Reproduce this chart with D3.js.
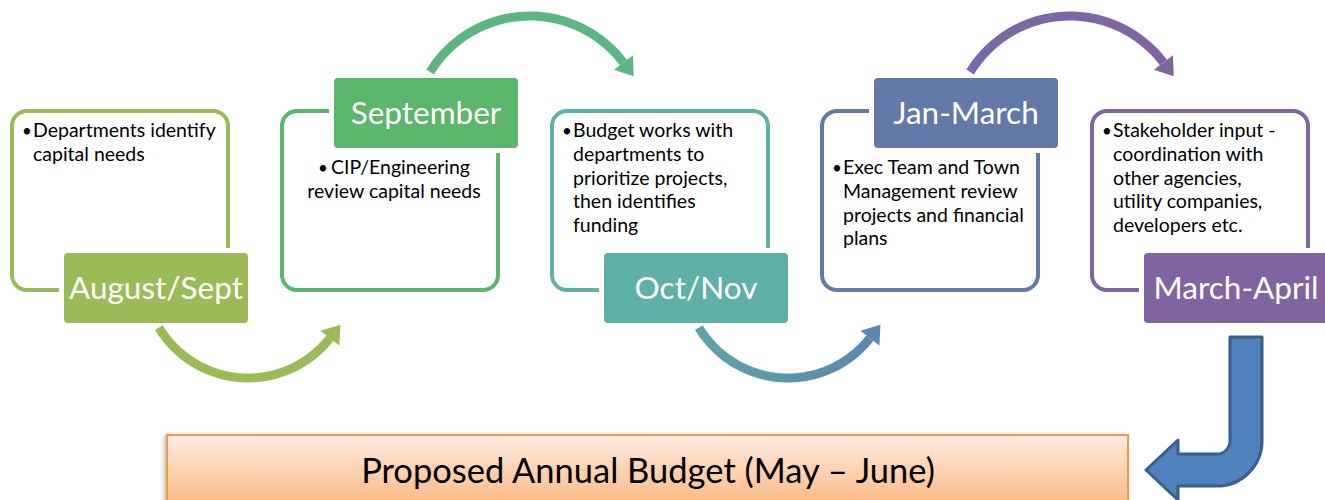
<html>
<head>
<meta charset="utf-8">
<title>Capital budget cycle</title>
<script src="https://d3js.org/d3.v7.min.js"></script>
<style type="text/css">
    body { margin: 0; background: #fff; }
    svg text { font-family: Lato, "Open Sans", sans-serif; }
    .note { font-size: 19.5px; fill: #000; }
    .bullet { font-size: 17px; fill: #000; }
    .stage { font-size: 31.5px; fill: #fff; }
    .budget { font-size: 34.5px; fill: #000; }
</style>
</head>
<body>
<div id="chart"></div>

<script type="text/javascript">
// stages of the cycle, left to right
var stages = ["August/Sept", "September", "Oct/Nov", "Jan-March", "March-April"];
var notes = [
    ["Departments identify", "capital needs"],
    ["CIP/Engineering", "review capital needs"],
    ["Budget works with", "departments to", "prioritize projects,", "then identifies", "funding"],
    ["Exec Team and Town", "Management review", "projects and financial", "plans"],
    ["Stakeholder input -", "coordination with", "other agencies,", "utility companies,", "developers etc."]
];
var labelSide = ["bottom", "top", "bottom", "top", "bottom"];
var noteAlign = ["start", "middle", "start", "start", "start"];
var stageColors = ["#9bbb59", "#5bb56a", "#5fb0a6", "#6178a8", "#8064a2"];
var arrowColors = [["#9bbb59", "#9bbb59"], ["#5cb57b", "#5db684"], ["#5fa3a9", "#5b86ae"], ["#776aa7", "#8064a2"]];
var budgetLabel = "Proposed Annual Budget (May \u2013 June)";

var width = 1325, height = 500;
var boxW = 216, boxTop = 111, boxH = 179;
var lblW = 184, lblH = 70, lblDx = 52;
var lineH = 23.8;

var svg = d3.select("#chart").append("svg")
    .attr("width", width)
    .attr("height", height);
var defs = svg.append("defs");

var x = d3.scaleLinear().domain([0, stages.length - 1]).range([12, 1092]);

// budget box at the bottom
var bg = defs.append("linearGradient").attr("id", "budgetFill")
    .attr("gradientUnits", "userSpaceOnUse")
    .attr("x1", 0).attr("x2", 0).attr("y1", 435).attr("y2", 500);
bg.append("stop").attr("offset", 0).attr("stop-color", "#feece0");
bg.append("stop").attr("offset", 1).attr("stop-color", "#fbbd8b");

var shadow = defs.append("filter").attr("id", "shadow")
    .attr("x", "-5%").attr("y", "-20%").attr("width", "110%").attr("height", "140%");
shadow.append("feDropShadow").attr("dx", -2).attr("dy", 1).attr("stdDeviation", 2)
    .attr("flood-color", "#000").attr("flood-opacity", 0.25);

svg.append("rect")
    .attr("x", 167).attr("y", 435).attr("width", 961).attr("height", 90)
    .attr("fill", "url(#budgetFill)")
    .attr("stroke", "#f79646").attr("stroke-width", 2)
    .attr("filter", "url(#shadow)");
svg.append("text").attr("class", "budget")
    .attr("x", 648).attr("y", 483)
    .attr("text-anchor", "middle")
    .text(budgetLabel);

// outlines
var boxes = svg.selectAll(".box").data(stages).enter().append("g").attr("class", "box");

boxes.append("rect")
    .attr("x", function (d, i) { return x(i); })
    .attr("y", boxTop)
    .attr("width", boxW).attr("height", boxH)
    .attr("rx", 15)
    .attr("fill", "#fff")
    .attr("stroke", function (d, i) { return stageColors[i]; })
    .attr("stroke-width", 4);

function lblY(i) { return labelSide[i] == "bottom" ? 253 : 78; }

// white halo cuts the outline where the label sits
boxes.append("rect")
    .attr("x", function (d, i) { return x(i) + lblDx; })
    .attr("y", function (d, i) { return lblY(i); })
    .attr("width", lblW).attr("height", lblH)
    .attr("rx", 4)
    .attr("fill", "#fff").attr("stroke", "#fff").attr("stroke-width", 10);

boxes.append("rect")
    .attr("x", function (d, i) { return x(i) + lblDx; })
    .attr("y", function (d, i) { return lblY(i); })
    .attr("width", lblW).attr("height", lblH)
    .attr("rx", 4)
    .attr("fill", function (d, i) { return stageColors[i]; });

boxes.append("text").attr("class", "stage")
    .attr("x", function (d, i) { return x(i) + lblDx + lblW / 2; })
    .attr("y", function (d, i) { return lblY(i) + lblH / 2 + 11; })
    .attr("text-anchor", "middle")
    .text(function (d) { return d; });

// bullet notes
boxes.each(function (d, i) {
    var g = d3.select(this);
    var y0 = labelSide[i] == "bottom" ? 137 : 174;
    if (noteAlign[i] == "middle") {
        var t = g.append("text").attr("class", "note").attr("text-anchor", "middle");
        notes[i].forEach(function (line, k) {
            var ts = t.append("tspan")
                .attr("x", x(i) + boxW / 2 + 4)
                .attr("y", y0 + k * lineH);
            if (k == 0) {
                ts.append("tspan").attr("class", "bullet").text("\u2022");
                t.append("tspan").attr("dx", 3).text(line);
            } else {
                ts.text(line);
            }
        });
    } else {
        g.append("text").attr("class", "bullet")
            .attr("x", x(i) + 10).attr("y", y0).text("\u2022");
        g.append("text").attr("class", "note")
            .selectAll("tspan").data(notes[i]).enter().append("tspan")
            .attr("x", x(i) + 21)
            .attr("y", function (line, k) { return y0 + k * lineH; })
            .text(function (line) { return line; });
    }
});

// curved arrows between stages
var rad = Math.PI / 180;
var arcs = d3.range(stages.length - 1).map(function (i) {
    if (labelSide[i] == "bottom")
        return { i: i, cx: x(i) + 236, cy: 274, r: 104, a0: 149 * rad, a1: 38 * rad };
    return { i: i, cx: x(i) + 248, cy: 133, r: 117, a0: -148.6 * rad, a1: -37 * rad };
});

var line = d3.line();
arcs.forEach(function (a) {
    var gid = "arrowFill" + a.i;
    var pts = d3.range(0, 1.0001, 0.02).map(function (t) {
        var ang = a.a0 + (a.a1 - a.a0) * t;
        return [a.cx + a.r * Math.cos(ang), a.cy + a.r * Math.sin(ang)];
    });
    var p0 = pts[0], p1 = pts[pts.length - 1];
    var sgn = a.a1 > a.a0 ? 1 : -1;
    var dir = [-Math.sin(a.a1) * sgn, Math.cos(a.a1) * sgn];
    var nrm = [-dir[1], dir[0]];
    var head = 17, half = 12;
    var tip = [p1[0] + dir[0] * head, p1[1] + dir[1] * head];

    var gr = defs.append("linearGradient").attr("id", gid)
        .attr("gradientUnits", "userSpaceOnUse")
        .attr("x1", p0[0]).attr("x2", tip[0]).attr("y1", 0).attr("y2", 0);
    gr.append("stop").attr("offset", 0).attr("stop-color", arrowColors[a.i][0]);
    gr.append("stop").attr("offset", 1).attr("stop-color", arrowColors[a.i][1]);

    svg.append("path")
        .attr("d", line(pts))
        .attr("fill", "none")
        .attr("stroke", "url(#" + gid + ")")
        .attr("stroke-width", 9);
    svg.append("path")
        .attr("d", line([
            [p1[0] + nrm[0] * half, p1[1] + nrm[1] * half],
            tip,
            [p1[0] - nrm[0] * half, p1[1] - nrm[1] * half]
        ]) + "Z")
        .attr("fill", arrowColors[a.i][1]);
});

// bent arrow down to the budget box
var sx = 1230, sw = 32, sTop = 337, cy = 441, rIn = 13, headX = 1178, tipX = 1146;
var mid = cy + rIn + sw / 2;
var p = d3.path();
p.moveTo(sx, sTop);
p.lineTo(sx + sw, sTop);
p.lineTo(sx + sw, cy);
p.arc(sx - rIn, cy, rIn + sw, 0, Math.PI / 2, false);
p.lineTo(headX, cy + rIn + sw);
p.lineTo(headX, mid + 30);
p.lineTo(tipX, mid);
p.lineTo(headX, mid - 30);
p.lineTo(headX, cy + rIn);
p.lineTo(sx - rIn, cy + rIn);
p.arc(sx - rIn, cy, rIn, Math.PI / 2, 0, true);
p.closePath();
svg.append("path")
    .attr("d", p.toString())
    .attr("fill", "#4f81bd")
    .attr("stroke", "#3a5f8b")
    .attr("stroke-width", 3)
    .attr("stroke-linejoin", "round");
</script>
</body>
</html>
